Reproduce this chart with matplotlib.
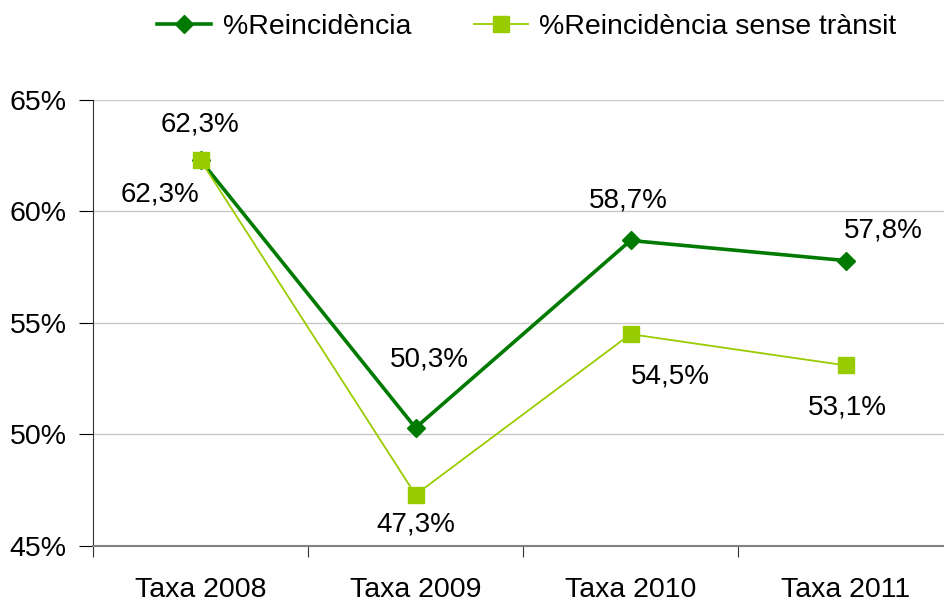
import numpy as np
from matplotlib import pyplot as plt

plt.rcParams['font.family'] = ['Liberation Sans', 'DejaVu Sans']

categories = ["Taxa 2008", "Taxa 2009", "Taxa 2010", "Taxa 2011"]
reincidencia = [62.3, 50.3, 58.7, 57.8]
sense_transit = [62.3, 47.3, 54.5, 53.1]
series_names = ["%Reincidència", "%Reincidència sense trànsit"]

DARK = "#007A00"
LIGHT = "#99CC00"

# label offsets in pixels (dx, dy)
offs_dark = [(0, 36), (14, 68), (-2, 40), (38, 30)]
offs_light = [(-40, -34), (0, -30), (40, -42), (2, -42)]


def fmt(v):
    return '{:.1f}%'.format(v).replace('.', ',')


def main():
    fig = plt.figure(figsize=(9.44, 6.05), dpi=100)
    ax = fig.add_axes([93 / 944, 59 / 605, 860 / 944, 446 / 605])
    x = np.arange(len(categories))

    ax.plot(x, reincidencia, color=DARK, lw=2.6, marker='D', ms=9.5,
            label=series_names[0], zorder=3)
    ax.plot(x, sense_transit, color=LIGHT, lw=1.3, marker='s', ms=11,
            label=series_names[1], zorder=4)

    for xi, v, (dx, dy) in zip(x, reincidencia, offs_dark):
        ax.annotate(fmt(v), (xi, v), xytext=(dx, dy), textcoords='offset pixels',
                    ha='center', va='center', fontsize=20)
    for xi, v, (dx, dy) in zip(x, sense_transit, offs_light):
        ax.annotate(fmt(v), (xi, v), xytext=(dx, dy), textcoords='offset pixels',
                    ha='center', va='center', fontsize=20)

    ax.set_xlim(-0.5, 3.5)
    ax.set_ylim(45, 65)
    ax.set_yticks([45, 50, 55, 60, 65])
    ax.set_yticklabels(['{}%'.format(t) for t in [45, 50, 55, 60, 65]], fontsize=20.5)
    ax.set_xticks(np.arange(-0.5, 4, 1))
    ax.set_xticklabels([])
    ax.set_xticks(x, minor=True)
    ax.set_xticklabels(categories, minor=True, fontsize=20.5)
    ax.tick_params(axis='x', which='minor', length=0, pad=22)
    ax.tick_params(axis='x', which='major', length=8, direction='out', color='#333333')
    ax.tick_params(axis='y', length=10, direction='out', pad=9)
    ax.yaxis.grid(True, color='#c8c8c8', lw=1)
    ax.set_axisbelow(True)
    for s in ['top', 'right']:
        ax.spines[s].set_visible(False)
    ax.spines['bottom'].set_color('#808080')
    ax.spines['bottom'].set_linewidth(1.5)
    ax.spines['left'].set_color('#333333')

    fig.legend(loc='center', bbox_to_anchor=(0.558, 1 - 27 / 605), ncol=2,
               frameon=False, fontsize=20.5, handlelength=1.9,
               columnspacing=2.2, handletextpad=0.4)
    fig.savefig('out.png', dpi=100)


main()
